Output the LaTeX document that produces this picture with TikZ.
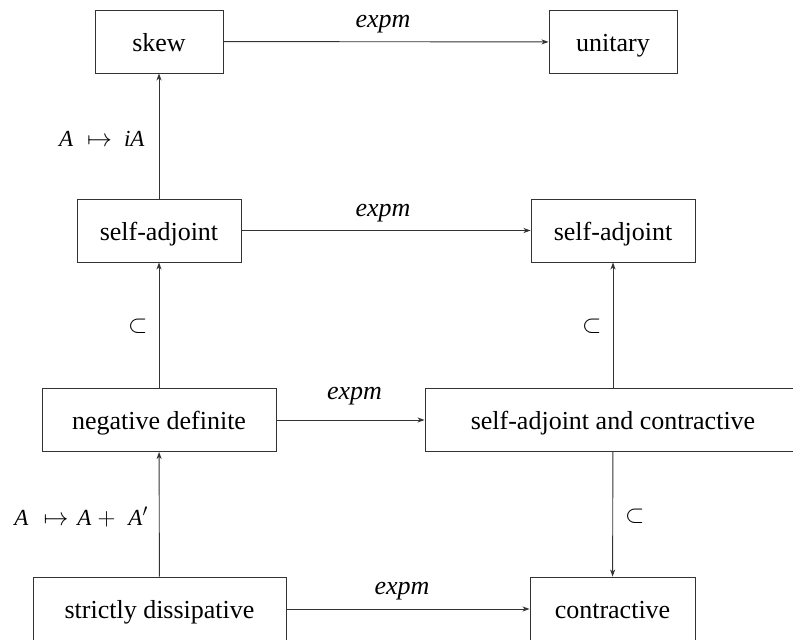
\documentclass[tikz,border=0pt]{standalone}
\usepackage{fontspec}
\setmainfont{Liberation Serif}
\usetikzlibrary{arrows.meta}
\newcommand{\bigmapsto}{{\fontsize{25}{25}\selectfont$\mapsto$}}
\newcommand{\bigplus}{{\fontsize{24}{24}\selectfont$+$}}
\begin{document}
\begin{tikzpicture}[x=1pt,y=-1pt,
  box/.style={draw=black!80,line width=0.9pt,inner sep=0pt,
    minimum height=63pt,text height=23pt,text depth=4pt,
    font=\fontsize{26}{30}\selectfont},
  link/.style={draw=black!80,line width=0.9pt,
    -{Stealth[length=7pt,width=5pt,inset=2pt]}},
  maplbl/.style={font=\fontsize{26}{30}\selectfont\itshape,inner sep=0pt,
    text height=12pt,text depth=5.5pt,above=8.5pt},
  setlbl/.style={font=\fontsize{23}{26}\selectfont,inner sep=0pt}]
\useasboundingbox (0,0) rectangle (793,640);
% sets of operators
\node[box,minimum width=128pt] (skew)  at (159,41.5)  {skew};
\node[box,minimum width=128pt] (unit)  at (613,42)    {unitary};
\node[box,minimum width=164pt] (saL)   at (159,230.5) {self-adjoint};
\node[box,minimum width=164pt] (saR)   at (613,230.5) {self-adjoint};
\node[box,minimum width=234pt] (neg)   at (159,420)   {negative definite};
\node[box,minimum width=376pt] (sac)   at (613,420)   {self-adjoint and contractive};
\node[box,minimum width=253pt,minimum height=64pt] (sdis) at (159.5,609) {strictly dissipative};
\node[box,minimum width=165pt,minimum height=64pt] (con)  at (612.5,609) {contractive};
% exponential maps
\draw[link] (skew) -- node[maplbl,xshift=-3pt] {expm} (unit);
\draw[link] (saL) -- node[maplbl,xshift=-3pt] {expm} (saR);
\draw[link] (neg) -- node[maplbl,xshift=4pt,above=6.5pt] {expm} (sac);
\draw[link] (sdis) -- node[maplbl,xshift=-6pt] {expm} (con);
% vertical maps and inclusions
\draw[link] (saL) -- node[setlbl,left=14pt,yshift=-3pt]
  {\textit{A}\hspace{14pt}\bigmapsto\hspace{12pt}\textit{iA}} (skew);
\draw[link] (neg) -- node[setlbl,left=11pt,yshift=-1.5pt] {$\subset$} (saL);
\draw[link] (sdis) -- node[setlbl,left=11pt,yshift=-3pt]
  {\textit{A}\hspace{15pt}\bigmapsto\hspace{9pt}\textit{A}\hspace{6pt}\bigplus\hspace{13pt}\textit{A}$'$} (neg);
\draw[link] (sac) -- node[setlbl,left=11pt,yshift=-1.5pt] {$\subset$} (saR);
\draw[link] (sac) -- node[setlbl,right=12pt,yshift=-2pt] {$\subset$} (con);
\end{tikzpicture}
\end{document}
